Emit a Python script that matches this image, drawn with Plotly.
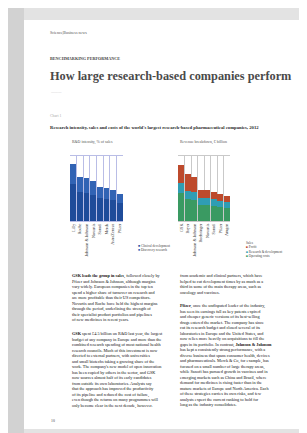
import plotly.graph_objects as go

W, H = 307, 433

# ---------------- data ----------------
left_companies = ["Lilly", "Roche", "Johnson & Johnson", "Novartis", "Sanofi", "Merck", "AstraZeneca", "Pfizer"]
left_development = [17.0, 13.5, 13.0, 12.0, 10.5, 10.0, 9.5, 8.5]
left_research = [9.3, 6.8, 6.8, 6.5, 5.2, 5.2, 4.8, 4.0]
left_series_names = ["Clinical development", "Discovery research"]

right_companies = ["GSK", "Bayer", "Johnson & Johnson", "Boehringer", "Novartis", "Sanofi", "Pfizer", "Amgen"]
right_costs = [26.0, 20.5, 19.5, 15.0, 15.0, 14.0, 13.0, 12.0]
right_rnd = [9.0, 7.5, 7.5, 6.5, 6.5, 6.5, 5.5, 5.5]
right_profit = [16.5, 15.0, 14.0, 7.5, 7.5, 6.5, 6.5, 5.5]
right_series_names = ["Operating costs", "Research & development", "Profit"]
right_legend_title = "Sales"

# ---------------- helpers (layout only) ----------------
def px(x):
    return x / W

def py(y):
    return 1 - y / H

BLUE_D, BLUE_L = "#1f4c9a", "#3163b4"
GREEN, TEAL, RED = "#3a9a62", "#2f9db3", "#bd4a2c"
TXT = "#3a3a3a"
SERIF = "Liberation Serif"

fig = go.Figure()

xl = list(range(len(left_companies)))
fig.add_trace(go.Bar(x=xl, y=left_development, name=left_series_names[0],
                     marker=dict(color=BLUE_D, line=dict(width=0)), xaxis="x", yaxis="y"))
fig.add_trace(go.Bar(x=xl, y=left_research, name=left_series_names[1],
                     marker=dict(color=BLUE_L, line=dict(width=0)), xaxis="x", yaxis="y"))

xr = list(range(len(right_companies)))
for vals, nm, col in [(right_costs, right_series_names[0], GREEN),
                      (right_rnd, right_series_names[1], TEAL),
                      (right_profit, right_series_names[2], RED)]:
    fig.add_trace(go.Bar(x=xr, y=vals, name=nm, marker=dict(color=col, line=dict(width=0)),
                         xaxis="x2", yaxis="y2"))

def xaxis_cfg(dom, labels, gridcol):
    return dict(domain=dom, range=[-0.5, len(labels) - 0.5], tickmode="array",
                tickvals=list(range(len(labels))), ticktext=labels, tickangle=-90,
                tickfont=dict(family=SERIF, size=4.2, color="#333"), ticks="", showgrid=False,
                zeroline=False, showline=True, mirror=True, linecolor=gridcol, linewidth=0.8,
                minor=dict(tick0=0.5, dtick=1, showgrid=True, gridcolor=gridcol, gridwidth=0.8),
                fixedrange=True)

ydom = [py(213), py(148)]
fig.update_layout(
    width=W, height=H, margin=dict(l=0, r=0, t=0, b=0),
    paper_bgcolor="#e3e3e3", plot_bgcolor="rgba(0,0,0,0)",
    barmode="stack", bargap=0.14, showlegend=False,
    xaxis=xaxis_cfg([px(62), px(115)], left_companies, "#b9bde6"),
    yaxis=dict(domain=ydom, range=[0, 30], visible=False, fixedrange=True),
    xaxis2=xaxis_cfg([px(170), px(222)], right_companies, "#c9c9c9"),
    yaxis2=dict(domain=ydom, range=[0, 60], visible=False, anchor="x2", fixedrange=True),
    font=dict(family=SERIF, color=TXT),
)
fig.layout.xaxis2.anchor = "y2"

# page background
fig.add_shape(type="rect", xref="paper", yref="paper", x0=0, x1=px(16), y0=0, y1=1,
              fillcolor="#d2d2d2", line=dict(width=0), layer="below")
fig.add_shape(type="rect", xref="paper", yref="paper", x0=px(16), x1=px(300), y0=py(421), y1=py(12),
              fillcolor="#ffffff", line=dict(width=0), layer="below")

def note(x, y, text, size, color=TXT, bold=False, family=SERIF, anchor="top"):
    if bold:
        text = "<b>" + text + "</b>"
    fig.add_annotation(xref="paper", yref="paper", x=px(x), y=py(y), text=text, showarrow=False,
                       xanchor="left", yanchor=anchor, align="left",
                       font=dict(size=size, color=color, family=family))

note(40, 25, "Science|Business news", 4.0, "#555", anchor="middle")
note(40, 50, "BENCHMARKING PERFORMANCE", 4.2, "#444", bold=True, anchor="middle")
note(40, 68, "How large research-based companies perform", 12.3, "#4a4a4a", bold=True, anchor="middle")
note(40, 84, "———", 3.5, "#bbb", anchor="middle")
note(40, 108, "Chart 1", 3.8, "#aaa", anchor="middle")
note(40, 120, "Research intensity, sales and costs of the world's largest research-based pharmaceutical companies, 2012",
     4.7, "#2a2a2a", bold=True, anchor="middle")
note(62, 135, "R&D intensity, % of sales", 3.9, "#555", anchor="middle")
note(170, 135, "Revenue breakdown, € billion", 3.9, "#555", anchor="middle")

# legends
note(128, 240, "<span style='color:%s'>■</span> %s<br><span style='color:%s'>■</span> %s"
     % (BLUE_D, left_series_names[0], BLUE_L, left_series_names[1]), 3.4, "#444", anchor="middle")
note(236, 241.5, "%s<br><span style='color:%s'>■</span> %s<br><span style='color:%s'>■</span> %s<br><span style='color:%s'>■</span> %s"
     % (right_legend_title, RED, right_series_names[2], TEAL, right_series_names[1], GREEN, right_series_names[0]),
     3.3, "#444", anchor="middle")

left_p1 = [
    "<b>GSK leads the group in sales</b>, followed closely by",
    "Pfizer and Johnson & Johnson, although margins",
    "vary widely. European companies in the top ten",
    "spend a higher share of turnover on research and",
    "are more profitable than their US competitors.",
    "Novartis and Roche have held the highest margins",
    "through the period, underlining the strength of",
    "their specialist product portfolios and pipelines",
    "of new medicines in recent years.",
]
left_p2 = [
    "<b>GSK</b> spent £4.5 billion on R&D last year, the largest",
    "budget of any company in Europe and more than the",
    "combined research spending of most national health",
    "research councils. Much of this investment is now",
    "directed to external partners, with universities",
    "and small biotechs taking a growing share of the",
    "work. The company's new model of open innovation",
    "has been copied by others in the sector, and GSK",
    "now sources almost half of its early candidates",
    "from outside its own laboratories. Analysts say",
    "that the approach has improved the productivity",
    "of its pipeline and reduced the cost of failure,",
    "even though the returns on many programmes will",
    "only become clear in the next decade, however.",
]
right_p1 = [
    "from academic and clinical partners, which have",
    "helped to cut development times by as much as a",
    "third in some of the main therapy areas, such as",
    "oncology and vaccines.",
]
right_p2 = [
    "<b>Pfizer</b>, once the undisputed leader of the industry,",
    "has seen its earnings fall as key patents expired",
    "and cheaper generic versions of its best-selling",
    "drugs entered the market. The company has since",
    "cut its research budget and closed several of its",
    "laboratories in Europe and the United States, and",
    "now relies more heavily on acquisitions to fill the",
    "gaps in its portfolio. In contrast, <b>Johnson & Johnson</b>",
    "has kept a consistently strong performance, with a",
    "diverse business that spans consumer health, devices",
    "and pharmaceuticals. Merck & Co, for example, has",
    "focused on a small number of large therapy areas,",
    "while Sanofi has pursued growth in vaccines and in",
    "emerging markets such as China and Brazil, where",
    "demand for medicines is rising faster than in the",
    "mature markets of Europe and North America. Each",
    "of these strategies carries its own risks, and few",
    "analysts expect the current ranking to hold for",
    "long as the industry consolidates.",
]
BODY = 4.25
BODY_COL = "#111111"
note(62, 262.5, "<br>".join(left_p1), BODY, BODY_COL)
note(62, 320.5, "<br>".join(left_p2), BODY, BODY_COL)
note(170, 262.5, "<br>".join(right_p1), BODY, BODY_COL)
note(170, 292.5, "<br>".join(right_p2), BODY, BODY_COL)
note(41, 413, "10", 3.8, "#444", anchor="middle")

fig.write_html("out.html")
